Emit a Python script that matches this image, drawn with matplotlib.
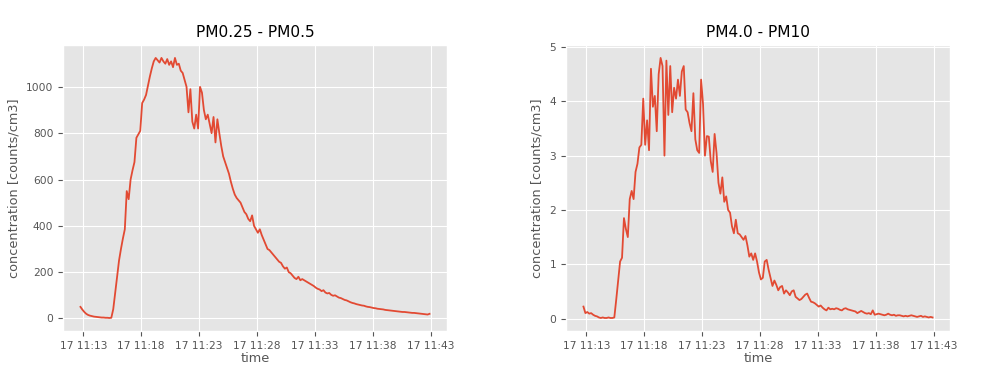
import matplotlib
matplotlib.use("Agg")
import matplotlib.pyplot as plt
import matplotlib.dates as mdates
import numpy as np
import pandas as pd

plt.style.use("ggplot")
plt.rcParams["font.size"] = 7.7

# sampling: one reading every 10 s starting 11:12:45
start_time = "2019-05-17 11:12:45"
step = "10s"

# PM0.25 - PM0.5 counts/cm3 (first two readings, then 6 per minute from 11:13)
pm025_pm05 = [
    50, 38,
    28, 20, 15, 12, 10, 8,
    7, 6, 5, 4, 4, 3,
    3, 2, 3, 40, 110, 180,
    250, 300, 345, 385, 550, 515,
    600, 640, 675, 780, 795, 810,
    930, 945, 965, 1005, 1045, 1080,
    1110, 1125, 1115, 1105, 1125, 1110,
    1100, 1120, 1095, 1110, 1085, 1125,
    1095, 1100, 1070, 1060, 1030, 1000,
    890, 990, 850, 820, 880, 820,
    1000, 975, 900, 860, 880, 840,
    800, 870, 760, 860, 800, 745,
    700, 675, 650, 625, 590, 560,
    535, 520, 510, 500, 480, 460,
    450, 430, 420, 445, 400, 385,
    370, 385, 360, 340, 320, 300,
    295, 285, 275, 265, 255, 245,
    240, 225, 215, 220, 200, 195,
    185, 175, 170, 180, 165, 170,
    165, 160, 155, 150, 145, 140,
    133, 128, 125, 118, 122, 112,
    108, 110, 102, 98, 100, 95,
    90, 88, 84, 80, 78, 74,
    70, 67, 65, 62, 60, 58,
    56, 55, 52, 50, 49, 47,
    45, 44, 42, 41, 40, 39,
    37, 36, 35, 34, 33, 32,
    31, 30, 29, 28, 28, 27,
    26, 25, 24, 24, 23, 22,
    21, 20, 19, 18, 17, 20,
]

# PM4.0 - PM10 counts/cm3, same time grid
pm40_pm10 = [
    0.22, 0.10,
    0.12, 0.09, 0.10, 0.07, 0.05, 0.04,
    0.02, 0.01, 0.02, 0.01, 0.01, 0.02,
    0.01, 0.01, 0.02, 0.35, 0.70, 1.05,
    1.12, 1.85, 1.65, 1.50, 2.20, 2.35,
    2.20, 2.70, 2.85, 3.15, 3.20, 4.05,
    3.20, 3.65, 3.10, 4.60, 3.90, 4.10,
    3.45, 4.50, 4.80, 4.65, 3.00, 4.75,
    3.75, 4.65, 3.80, 4.25, 4.05, 4.40,
    4.10, 4.55, 4.65, 3.85, 3.80, 3.60,
    3.45, 4.15, 3.30, 3.10, 3.05, 4.40,
    3.95, 3.00, 3.36, 3.35, 2.90, 2.70,
    3.40, 3.05, 2.50, 2.30, 2.60, 2.15,
    2.25, 2.00, 1.95, 1.70, 1.57, 1.82,
    1.57, 1.55, 1.50, 1.45, 1.52, 1.35,
    1.14, 1.20, 1.08, 1.20, 1.05, 0.85,
    0.72, 0.75, 1.05, 1.08, 0.90, 0.75,
    0.60, 0.70, 0.62, 0.52, 0.58, 0.60,
    0.46, 0.52, 0.48, 0.43, 0.50, 0.52,
    0.40, 0.37, 0.34, 0.36, 0.40, 0.44,
    0.46, 0.38, 0.31, 0.30, 0.28, 0.25,
    0.22, 0.24, 0.20, 0.17, 0.15, 0.20,
    0.17, 0.18, 0.17, 0.19, 0.18, 0.16,
    0.15, 0.18, 0.19, 0.17, 0.16, 0.15,
    0.14, 0.13, 0.10, 0.12, 0.14, 0.12,
    0.10, 0.09, 0.10, 0.08, 0.15, 0.07,
    0.08, 0.09, 0.08, 0.07, 0.06, 0.07,
    0.09, 0.07, 0.06, 0.07, 0.05, 0.06,
    0.06, 0.05, 0.04, 0.05, 0.04, 0.05,
    0.06, 0.05, 0.04, 0.03, 0.04, 0.05,
    0.03, 0.04, 0.03, 0.02, 0.03, 0.02,
]

titles = ["PM0.25 - PM0.5", "PM4.0 - PM10"]
times = pd.date_range(start_time, periods=len(pm025_pm05), freq=step)

fig = plt.figure(figsize=(10, 3.73), dpi=100)
ax_left = fig.add_axes([0.063, 0.1126, 0.384, 0.767])
ax_right = fig.add_axes([0.566, 0.1126, 0.384, 0.767])

for ax, values, title in zip([ax_left, ax_right], [pm025_pm05, pm40_pm10], titles):
    ax.plot(times, np.asarray(values, dtype=float), color="#E24A33", linewidth=1.3)
    ax.set_title(title, color="black")
    ax.set_xlabel("time", labelpad=1)
    ax.set_ylabel("concentration [counts/cm3]")
    ax.xaxis.set_major_locator(mdates.MinuteLocator(byminute=range(3, 60, 5)))
    ax.xaxis.set_major_formatter(mdates.DateFormatter("%d %H:%M"))

ax_left.set_yticks([0, 200, 400, 600, 800, 1000])
ax_right.set_yticks([0, 1, 2, 3, 4, 5])

fig.savefig("out.png", dpi=100, facecolor="white")
